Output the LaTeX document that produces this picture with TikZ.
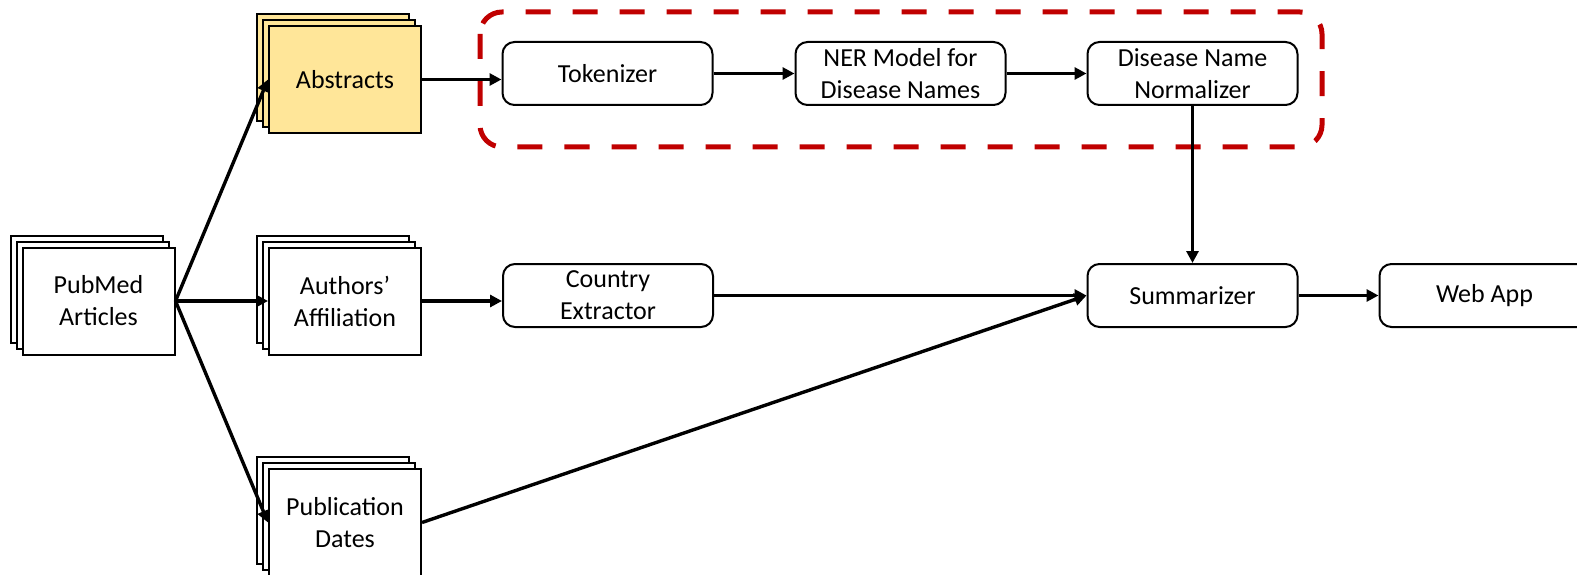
\documentclass[tikz,border=0pt]{standalone}
\usepackage{fontspec}
\setmainfont{Carlito}
\usetikzlibrary{arrows.meta,positioning,calc}
\definecolor{gold}{HTML}{FFE699}
\definecolor{darkred}{HTML}{C00000}
\tikzset{
  x=1pt, y=-1pt,
  every node/.style={font=\fontsize{26}{32}\selectfont, align=center, inner sep=0pt},
  proc/.style={draw, line width=2pt, rounded corners=12pt, minimum width=210pt, minimum height=63pt},
  sheet/.style={draw, line width=2pt, fill=white, minimum width=152pt, minimum height=107pt},
  flow/.style={line width=3.4pt, -{Triangle[length=12pt,width=12pt]}},
  group/.style={draw=darkred, line width=5pt, rounded corners=22pt, dash pattern=on 25pt off 22pt}
}
\newcommand{\stackof}[4]{%
  % #1 name, #2 centre, #3 fill, #4 text
  \node[sheet, fill=#3] at ($#2+(-12,-12)$) {};
  \node[sheet, fill=#3] at ($#2+(-6,-6)$) {};
  \node[sheet, fill=#3] (#1) at #2 {#4};
}
\begin{document}
\begin{tikzpicture}
\useasboundingbox (0,0) rectangle (1577,575);
\clip (0,0) rectangle (1577,575);

% document stacks
\stackof{pubmed}{(98.5,301)}{white}{PubMed\\Articles}
\stackof{abstracts}{(345,79.5)}{gold}{Abstracts}
\stackof{authors}{(345,301)}{white}{Authors'\\Affiliation}
\stackof{dates}{(345,522.5)}{white}{Publication\\Dates}

% processing steps
\node[proc] (tok) at (607.5,73.5) {Tokenizer};
\node[proc] (ner) at (900.5,73.5) {NER Model for\\Disease Names};
\node[proc] (norm) at (1192.5,73.5) {Disease Name\\Normalizer};
\node[proc] (country) at (608,295.5) {Country\\Extractor};
\node[proc] (summ) at (1192.5,295.5) {Summarizer};
\node[proc] (web) at (1484.5,295.5) {Web App};

% disease-extraction group
\draw[group] (480,12) rectangle (1322,147);

% connectors
\coordinate (hub) at (pubmed.east);
\draw[flow] (hub) -- (abstracts.west);
\draw[flow] (hub) -- (authors.west);
\draw[flow] (hub) -- (dates.west);
\draw[flow] (abstracts.east) -- (tok.west |- abstracts.east);
\draw[flow] (tok) -- (ner);
\draw[flow] (ner) -- (norm);
\draw[flow] (norm.south) -- (summ.north);
\draw[flow] (authors.east) -- (country.west |- authors.east);
\draw[flow] (country.east) -- (summ.west);
\draw[flow] (dates.east) -- (summ.west);
\draw[flow] (summ) -- (web);
\end{tikzpicture}
\end{document}
